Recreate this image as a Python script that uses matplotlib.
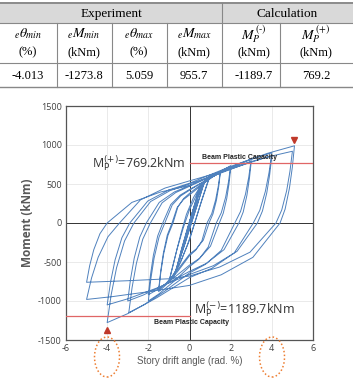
import numpy as np
import matplotlib
matplotlib.use("Agg")
import matplotlib.pyplot as plt
from matplotlib.patches import Ellipse, Rectangle
from matplotlib.lines import Line2D
import matplotlib.transforms as mtransforms

# ---- table data ----
group_labels = ["Experiment", "Calculation"]
col_labels = [r"$_e\theta_{min}$", r"$_eM_{min}$", r"$_e\theta_{max}$",
              r"$_eM_{max}$", r"$M_P^{\,(\text{-})}$", r"$M_P^{\,(+)}$"]
col_units = ["(%)", "(kNm)", "(%)", "(kNm)", "(kNm)", "(kNm)"]
table_values = ["-4.013", "-1273.8", "5.059", "955.7", "-1189.7", "769.2"]

# ---- chart data ----
mp_pos = 769.2
mp_neg = -1189.7
theta_max, m_peak_pos = 5.059, 990
theta_min, m_peak_neg = -4.013, -1277

# hysteresis, (drift %, moment kNm)
cyc_0375 = [(0, 0), (0.15, 150), (0.3, 260), (0.375, 310), (0.3, 240), (0.1, 40), (-0.1, -120),
            (-0.25, -260), (-0.375, -360), (-0.3, -290), (-0.1, -90), (0.05, 40),
            (0.2, 180), (0.375, 300), (0.28, 220), (0.08, 20), (-0.12, -140), (-0.375, -350),
            (-0.28, -270), (-0.08, -70), (0.05, 40)]
cyc_05 = [(0.25, 230), (0.5, 410), (0.4, 330), (0.15, 80), (-0.15, -160), (-0.35, -360),
          (-0.5, -490), (-0.4, -400), (-0.15, -140), (0.05, 50),
          (0.25, 230), (0.5, 400), (0.4, 320), (0.15, 70), (-0.2, -210), (-0.5, -480),
          (-0.4, -390), (-0.15, -130), (0.05, 50)]
cyc_075 = [(0.3, 280), (0.55, 450), (0.75, 540), (0.65, 470), (0.4, 250), (0.1, 0), (-0.2, -250),
           (-0.5, -480), (-0.75, -680), (-0.65, -600), (-0.4, -350), (-0.1, -80), (0.1, 100),
           (0.4, 350), (0.75, 530), (0.65, 460), (0.35, 210), (0.05, -30), (-0.3, -330),
           (-0.75, -670), (-0.62, -570), (-0.35, -300), (-0.05, -20), (0.15, 150)]
cyc_1 = [(0.4, 380), (0.7, 520), (1.0, 610), (0.9, 540), (0.6, 300), (0.3, 40), (0.0, -220),
         (-0.4, -480), (-0.75, -660), (-1.0, -760), (-0.9, -650), (-0.65, -380), (-0.4, -120),
         (-0.15, 110), (0.2, 330), (0.55, 480), (1.0, 600), (0.88, 510), (0.55, 250), (0.25, 0),
         (-0.1, -280), (-0.5, -540), (-1.0, -750), (-0.88, -620), (-0.6, -330), (-0.3, -60),
         (0.0, 170)]
cyc_15 = [(0.5, 450), (1.0, 590), (1.5, 660),
          (1.4, 475), (1.27, 297), (1.08, 119), (0.85, 0), (0.6, -231), (0.3, -349), (0, -420),
          (-0.6, -630), (-1.12, -788), (-1.5, -880),
          (-1.395, -634), (-1.255, -396), (-1.045, -158), (-0.8, 0), (-0.56, 209), (-0.28, 315),
          (0, 380), (0.6, 503), (1.12, 594), (1.5, 650),
          (1.42, 468), (1.31, 293), (1.14, 117), (0.95, 0), (0.67, -220), (0.33, -332),
          (0, -400), (-0.6, -607), (-1.12, -768), (-1.5, -860),
          (-1.4, -619), (-1.27, -387), (-1.08, -155), (-0.85, 0), (-0.6, 198), (-0.3, 299),
          (0, 360)]
cyc_2 = [(0.8, 530), (1.5, 660), (2.0, 735),
         (1.895, 529), (1.755, 331), (1.545, 132), (1.3, 0), (0.91, -308), (0.455, -465),
         (0, -560), (-0.8, -758), (-1.5, -912), (-2.0, -1000),
         (-1.88, -720), (-1.72, -450), (-1.48, -180), (-1.2, 0), (-0.84, 231), (-0.42, 349),
         (0, 420), (0.8, 549), (1.5, 644), (2.0, 700),
         (1.92, 504), (1.81, 315), (1.64, 126), (1.45, 0), (1.02, -297), (0.51, -448),
         (0, -540), (-0.8, -711), (-1.5, -844), (-2.0, -920),
         (-1.895, -662), (-1.755, -414), (-1.545, -166), (-1.3, 0), (-0.91, 237),
         (-0.455, 357), (0, 430)]
cyc_3 = [(1.2, 604), (2.25, 742), (3.0, 820),
         (2.88, 590), (2.72, 369), (2.48, 148), (2.2, 0), (1.54, -352), (0.77, -531),
         (0, -640), (-1.18, -870), (-2.21, -1048), (-2.95, -1150),
         (-2.79, -828), (-2.58, -518), (-2.27, -207), (-1.9, 0), (-1.33, 259), (-0.67, 390),
         (0, 470), (1.2, 614), (2.25, 726), (3.0, 790),
         (2.91, 569), (2.79, 356), (2.61, 142), (2.4, 0), (1.68, -341), (0.84, -515),
         (0, -620), (-1.2, -791), (-2.25, -924), (-3.0, -1000),
         (-2.865, -720), (-2.685, -450), (-2.415, -180), (-2.1, 0), (-1.47, 264),
         (-0.735, 398), (0, 480)]
cyc_4 = [(1.6, 669), (3.0, 816), (4.0, 900),
         (3.865, 648), (3.685, 405), (3.415, 162), (3.1, 0), (2.17, -385), (1.085, -581),
         (0, -700), (-1.6, -960), (-3.0, -1162), (-4.0, -1277),
         (-3.805, -919), (-3.545, -575), (-3.155, -230), (-2.7, 0), (-1.89, 275),
         (-0.945, 415), (0, 500), (1.6, 648), (3.0, 788), (4.0, 860),
         (3.895, 619), (3.755, 387), (3.545, 155), (3.3, 0), (2.31, -363), (1.155, -548),
         (0, -660), (-1.6, -835), (-3.0, -972), (-4.0, -1050),
         (-3.835, -756), (-3.615, -473), (-3.285, -189), (-2.9, 0), (-2.03, 281),
         (-1.015, 423), (0, 510)]
cyc_5 = [(2.0, 726), (3.8, 894), (5.1, 990),
         (4.995, 713), (4.855, 446), (4.645, 178), (4.4, 0), (3.08, -440), (1.54, -664),
         (0, -800), (-2.0, -881), (-3.75, -944), (-5.0, -980),
         (-4.76, -706), (-4.44, -441), (-3.96, -176), (-3.4, 0), (-2.38, 297), (-1.19, 448),
         (0, 540), (2.0, 692), (3.75, 844), (5.0, 920),
         (4.88, 662), (4.72, 414), (4.48, 166), (4.2, 0), (2.94, -374), (1.47, -564),
         (0, -680), (-1.0, -715), (-3.0, -740), (-5.0, -760),
         (-4.85, -547), (-4.65, -342), (-4.35, -137), (-4.0, 0), (-2.8, 264), (-1.4, 398),
         (0, 480)]

cycles = [cyc_0375, cyc_05, cyc_075, cyc_1, cyc_15, cyc_2, cyc_3, cyc_4, cyc_5]
hyst = np.array([p for c in cycles for p in c])

W, H = 353, 379
plt.rcParams['mathtext.fontset'] = 'stix'
plt.rcParams['axes.unicode_minus'] = False
fig = plt.figure(figsize=(W / 100, H / 100), dpi=100)

def fx(px):
    return px / W

def fy(py):
    return 1 - py / H

# ---- table ----
serif = 'Liberation Serif'
fig.patches.append(Rectangle((0, fy(23)), 1, fy(4) - fy(23), transform=fig.transFigure,
                             facecolor='#d9d9d9', edgecolor='none'))
for yy, lw, c in [(3, 1.2, '#777777'), (23, 0.8, '#888888'), (63, 0.8, '#888888'),
                  (87, 1.0, '#888888')]:
    fig.lines.append(Line2D([0, 1], [fy(yy), fy(yy)], transform=fig.transFigure,
                            color=c, lw=lw))
for xx in [57, 112, 167, 280]:
    fig.lines.append(Line2D([fx(xx), fx(xx)], [fy(23), fy(87)], transform=fig.transFigure,
                            color='#888888', lw=0.8))
fig.lines.append(Line2D([fx(222), fx(222)], [fy(3), fy(87)], transform=fig.transFigure,
                        color='#888888', lw=0.8))

fig.text(fx(111), fy(14), group_labels[0], ha='center', va='center', family=serif, fontsize=9.5)
fig.text(fx(287), fy(14), group_labels[1], ha='center', va='center', family=serif, fontsize=9.5)
col_x = [28, 84, 139, 194, 254, 316]
for cx, lab, unit, val in zip(col_x, col_labels, col_units, table_values):
    fig.text(fx(cx), fy(34), lab, ha='center', va='center', fontsize=10)
    fig.text(fx(cx), fy(52), unit, ha='center', va='center', family=serif, fontsize=9)
    fig.text(fx(cx), fy(76), val, ha='center', va='center', family=serif, fontsize=9)

# ---- chart ----
ax = fig.add_axes([fx(66), fy(340), fx(313) - fx(66), fy(106) - fy(340)])
ax.plot(hyst[:, 0], hyst[:, 1], color='#4f81bd', lw=0.7, zorder=3)
ax.set_xlim(-6, 6)
ax.set_ylim(-1500, 1500)
ax.set_xticks(np.arange(-6, 7, 2))
ax.set_yticks(np.arange(-1500, 1501, 500))
ax.grid(True, color='#e6e6e6', lw=0.6)
ax.axhline(0, color='#333333', lw=0.7, zorder=2)
ax.axvline(0, color='#333333', lw=0.7, zorder=2)
for s in ax.spines.values():
    s.set_color('#555555')
    s.set_linewidth(0.9)
ax.tick_params(length=0, labelsize=6.5, labelcolor='#404040', pad=3)
for lab in ax.get_xticklabels() + ax.get_yticklabels():
    lab.set_family('Open Sans')

ax.plot([0, 6], [mp_pos, mp_pos], color='#e06666', lw=0.9, zorder=4)
ax.plot([-6, 0], [mp_neg, mp_neg], color='#e06666', lw=0.9, zorder=4)

off_up = mtransforms.offset_copy(ax.transData, fig=fig, x=0, y=4, units='points')
off_dn = mtransforms.offset_copy(ax.transData, fig=fig, x=0, y=-5, units='points')
ax.plot(theta_max, m_peak_pos, marker='v', color='#c0392b', ms=5, transform=off_up,
        clip_on=False, zorder=5)
ax.plot(theta_min, m_peak_neg, marker='^', color='#c0392b', ms=5, transform=off_dn,
        clip_on=False, zorder=5)

ax.text(-0.2, mp_pos, r'M$_{\rm P}^{(+)}$=769.2kNm', ha='right', va='center', fontsize=9,
        color='#333333', family='Open Sans', math_fontfamily='dejavusans')
ax.text(0.2, -1110, r'M$_{\rm P}^{(-)}$=1189.7kNm', ha='left', va='center', fontsize=9,
        color='#333333', family='Open Sans', math_fontfamily='dejavusans')
ax.text(0.6, mp_pos + 30, 'Beam Plastic Capacity', ha='left', va='bottom', fontsize=5,
        fontweight='bold', color='#222222', family='Liberation Sans')
ax.text(0.1, mp_neg - 45, 'Beam Plastic Capacity', ha='center', va='top', fontsize=5,
        fontweight='bold', color='#222222', family='Liberation Sans')

ax.set_xlabel('Story drift angle (rad. %)', fontsize=7, color='#595959',
              family='Liberation Sans', labelpad=2)
ax.set_ylabel('Moment (kNm)', fontsize=8.5, color='#595959', family='Open Sans',
              fontweight='bold', labelpad=3)

for cx in [107, 272]:
    fig.patches.append(Ellipse((fx(cx), fy(357)), fx(25), 40 / H, transform=fig.transFigure,
                               fill=False, edgecolor='#ed7d31', ls=(0, (1, 1.5)), lw=1.1))

fig.savefig('out.png', dpi=100)
